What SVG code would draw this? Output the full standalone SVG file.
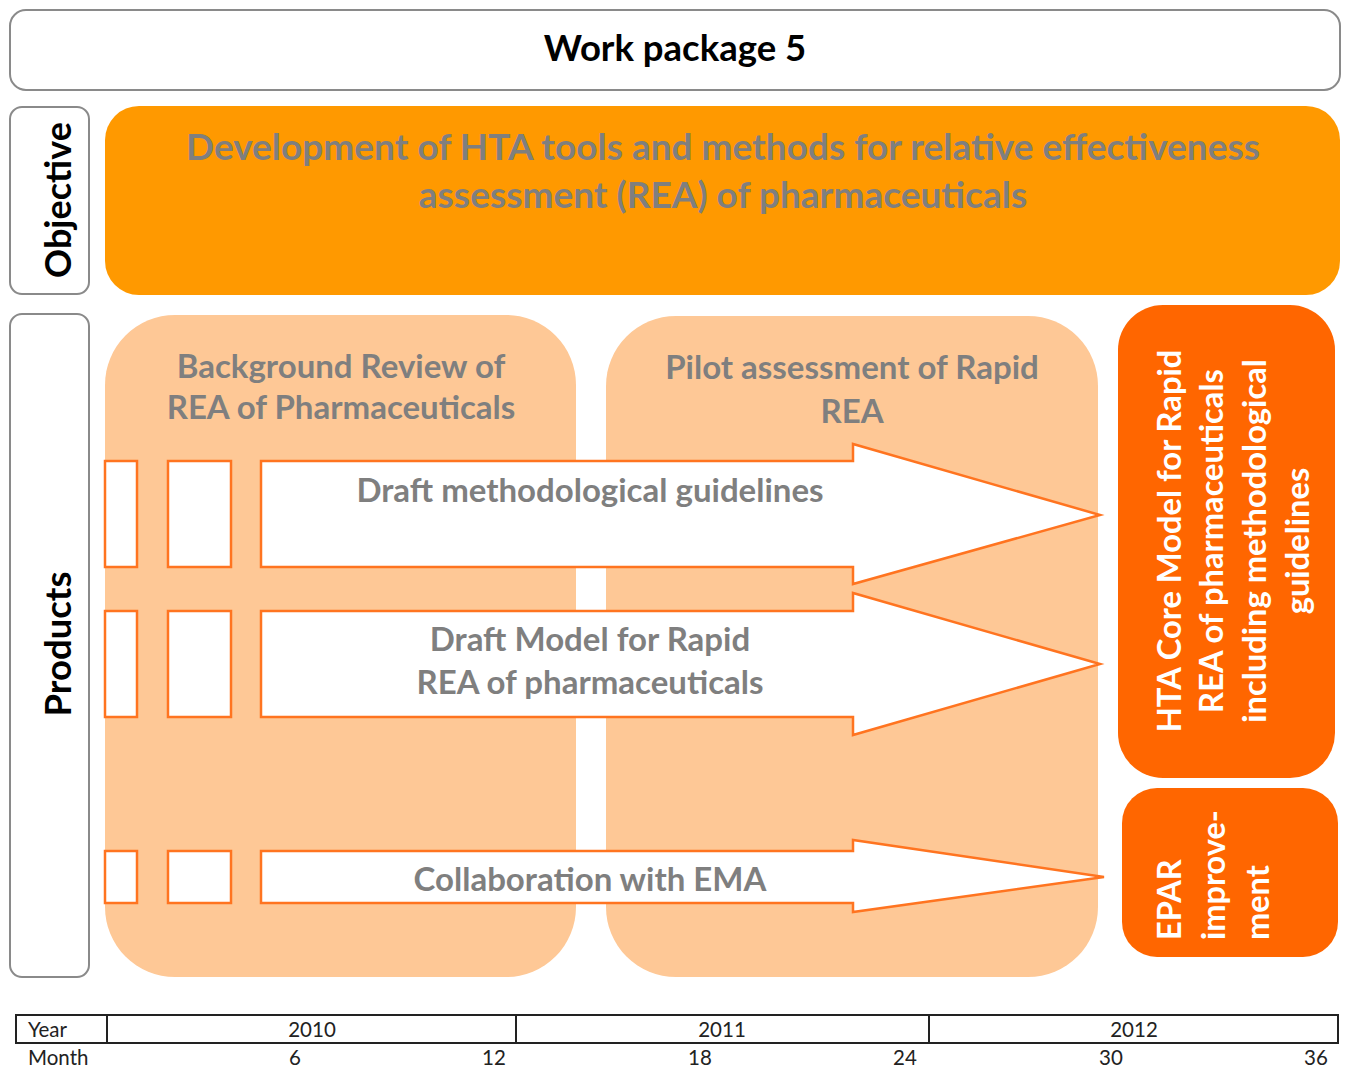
<svg xmlns="http://www.w3.org/2000/svg" width="1348" height="1080" viewBox="0 0 1348 1080">
<style>
.lbl{fill:#fff;stroke:#8a8a8a;stroke-width:2}
.lab{font-family:Lato,"Liberation Sans",sans-serif;font-weight:bold;fill:#000}
.gray{font-family:Lato,"Liberation Sans",sans-serif;font-weight:bold;fill:#7f7f7f;text-anchor:middle}
.wht{font-family:Lato,"Liberation Sans",sans-serif;font-weight:bold;fill:#fff}
.panel{fill:#FEC896}
.sq{fill:#fff;stroke:#FF7420;stroke-width:2.5}
.arr{fill:#fff;stroke:#FF7420;stroke-width:2.5;stroke-linejoin:miter}
.tl{font-family:Lato,"Liberation Sans",sans-serif;font-size:20.5px;fill:#222}
</style>
<rect width="1348" height="1080" fill="#fff"/>
<g id="title">
<rect class="lbl" x="10" y="10" width="1330" height="80" rx="16"/>
<text class="lab" x="675" y="61" font-size="36.5" text-anchor="middle">Work package 5</text>
</g>
<g id="objective-label">
<rect class="lbl" x="10" y="107" width="79" height="187" rx="12"/>
<text class="lab" font-size="36" text-anchor="middle" transform="translate(71,200) rotate(-90)">Objective</text>
</g>
<g id="objective">
<rect x="105" y="106" width="1235" height="189" rx="34" fill="#FF9900"/>
<text class="gray" x="723" y="160" font-size="37">Development of HTA tools and methods for relative effectiveness</text>
<text class="gray" x="723" y="208" font-size="37">assessment (REA) of pharmaceuticals</text>
</g>
<g id="products-label">
<rect class="lbl" x="10" y="314" width="79" height="663" rx="12"/>
<text class="lab" font-size="36.5" text-anchor="middle" transform="translate(71,644) rotate(-90)">Products</text>
</g>
<g id="background-review">
<rect class="panel" x="105" y="315" width="471" height="662" rx="70"/>
<text class="gray" x="341" y="378" font-size="33">Background Review of</text>
<text class="gray" x="341" y="419" font-size="33">REA of Pharmaceuticals</text>
</g>
<g id="pilot-assessment">
<rect class="panel" x="606" y="316" width="492" height="661" rx="70"/>
<text class="gray" x="852" y="379" font-size="33">Pilot assessment of Rapid</text>
<text class="gray" x="852" y="423" font-size="33">REA</text>
</g>
<g id="hta-core-model">
<rect x="1118" y="305" width="217" height="473" rx="45" fill="#FF6600"/>
<g class="wht" font-size="32.7" text-anchor="middle">
<text transform="translate(1181,541) rotate(-90)">HTA Core Model for Rapid</text>
<text transform="translate(1223,541) rotate(-90)">REA of pharmaceuticals</text>
<text transform="translate(1266,541) rotate(-90)">including methodological</text>
<text transform="translate(1309,541) rotate(-90)">guidelines</text>
</g>
</g>
<g id="epar">
<rect x="1122" y="788" width="216" height="169" rx="35" fill="#FF6600"/>
<g class="wht" font-size="32.5">
<text transform="translate(1181,940) rotate(-90)">EPAR</text>
<text transform="translate(1225,940) rotate(-90)">improve-</text>
<text transform="translate(1269,940) rotate(-90)">ment</text>
</g>
</g>
<g id="squares">
<rect class="sq" x="105" y="461" width="32" height="106"/>
<rect class="sq" x="168" y="461" width="63" height="106"/>
<rect class="sq" x="105" y="611" width="32" height="106"/>
<rect class="sq" x="168" y="611" width="63" height="106"/>
<rect class="sq" x="105" y="851" width="32" height="52"/>
<rect class="sq" x="168" y="851" width="63" height="52"/>
</g>
<g id="connectors">
<g id="arrow-guidelines">
<polygon class="arr" points="261,461 853,461 853,444 1100,515 853,584 853,567 261,567"/>
<text class="gray" x="590" y="502" font-size="33">Draft methodological guidelines</text>
</g>
<g id="arrow-model">
<polygon class="arr" points="261,611 853,611 853,593 1100,664 853,735 853,717 261,717"/>
<text class="gray" x="590" y="651" font-size="33">Draft Model for Rapid</text>
<text class="gray" x="590" y="694" font-size="33">REA of pharmaceuticals</text>
</g>
<g id="arrow-ema">
<polygon class="arr" points="261,851 853,851 853,840 1104,877 853,912 853,903 261,903"/>
<text class="gray" x="590" y="891" font-size="33">Collaboration with EMA</text>
</g>
</g>
<g id="timeline">
<rect x="16" y="1015" width="1322" height="28" fill="#fff" stroke="#222" stroke-width="2"/>
<line x1="107" y1="1015" x2="107" y2="1043" stroke="#222" stroke-width="2"/>
<line x1="516" y1="1015" x2="516" y2="1043" stroke="#222" stroke-width="2"/>
<line x1="929" y1="1015" x2="929" y2="1043" stroke="#222" stroke-width="2"/>
<text class="tl" x="28" y="1037">Year</text>
<text class="tl" x="312" y="1037" text-anchor="middle">2010</text>
<text class="tl" x="722" y="1037" text-anchor="middle">2011</text>
<text class="tl" x="1134" y="1037" text-anchor="middle">2012</text>
<text class="tl" x="28" y="1065">Month</text>
<text class="tl" x="295" y="1065" text-anchor="middle">6</text>
<text class="tl" x="494" y="1065" text-anchor="middle">12</text>
<text class="tl" x="700" y="1065" text-anchor="middle">18</text>
<text class="tl" x="905" y="1065" text-anchor="middle">24</text>
<text class="tl" x="1111" y="1065" text-anchor="middle">30</text>
<text class="tl" x="1316" y="1065" text-anchor="middle">36</text>
</g>
</svg>
